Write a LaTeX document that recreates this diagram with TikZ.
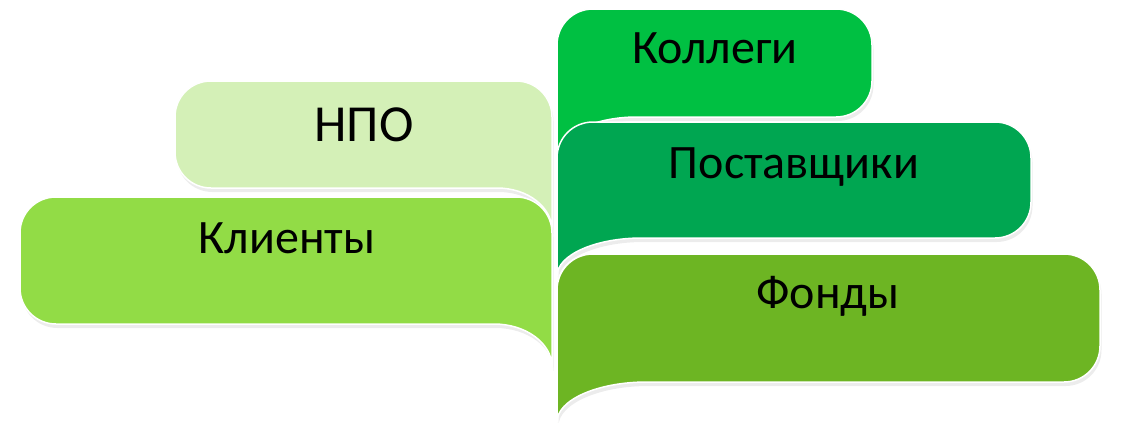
\documentclass[tikz,border=0pt]{standalone}
\usepackage{fontspec}
\setmainfont{Carlito}
\definecolor{cNPO}{RGB}{212,240,183}
\definecolor{cKli}{RGB}{146,220,70}
\definecolor{cKol}{RGB}{0,192,66}
\definecolor{cPos}{RGB}{0,166,81}
\definecolor{cFon}{RGB}{109,181,35}
\definecolor{cShadow}{RGB}{236,236,236}
% corner radius r=36, k=0.552*r=20
% left-type shape: L,R,T,B,Bt,tx (tail at bottom right)
\newcommand\lpath[6]{({#1+36},#4) -- ({#2-#6},#4)
  .. controls ({#2-0.448*#6},#4) and (#2,{#5-0.552*(#5-#4)}) .. (#2,#5)
  -- (#2,{#3+36}) .. controls (#2,{#3+16}) and ({#2-16},#3) .. ({#2-36},#3)
  -- ({#1+36},#3) .. controls ({#1+16},#3) and (#1,{#3+16}) .. (#1,{#3+36})
  -- (#1,{#4-36}) .. controls (#1,{#4-16}) and ({#1+16},#4) .. ({#1+36},#4) -- cycle}
% right-type shape: L,R,T,B,Bt,tx (tail at bottom left)
\newcommand\rpath[6]{({#1+#6},#4) -- ({#2-36},#4)
  .. controls ({#2-16},#4) and (#2,{#4-16}) .. (#2,{#4-36})
  -- (#2,{#3+36}) .. controls (#2,{#3+16}) and ({#2-16},#3) .. ({#2-36},#3)
  -- ({#1+36},#3) .. controls ({#1+16},#3) and (#1,{#3+16}) .. (#1,{#3+36})
  -- (#1,#5) .. controls (#1,{#5-0.552*(#5-#4)}) and ({#1+0.448*#6},#4) .. ({#1+#6},#4) -- cycle}
\newcommand\lshape[7]{%
  \fill[cShadow,xshift=1.5pt,yshift=-4pt] \lpath{#1}{#2}{#3}{#4}{#5}{#6};
  \fill[#7,draw=white,line width=1.5pt] \lpath{#1}{#2}{#3}{#4}{#5}{#6};}
\newcommand\rshape[7]{%
  \fill[cShadow,xshift=1.5pt,yshift=-4pt] \rpath{#1}{#2}{#3}{#4}{#5}{#6};
  \fill[#7,draw=white,line width=1.5pt] \rpath{#1}{#2}{#3}{#4}{#5}{#6};}
\tikzset{lbl/.style={anchor=base,inner sep=0pt,font=\fontsize{48}{58}\selectfont,text=black}}
\begin{document}
\begin{tikzpicture}[x=1pt,y=-1pt]
\useasboundingbox (0,0) rectangle (1125,423);
% left column
\lshape{175}{552}{81}{188}{230}{55}{cNPO}
\node[lbl,font=\fontsize{52}{60}\selectfont] (npo) at (364,141) {НПО};
\lshape{20}{552}{197}{324}{367}{58}{cKli}
\node[lbl] (kli) at (287,253) {Клиенты};
% right column
\rshape{557}{872}{9}{117}{157}{80}{cKol}
\node[lbl] (kol) at (715,63) {Коллеги};
\rshape{557}{1031}{122}{238}{276}{85}{cPos}
\node[lbl] (pos) at (794,178) {Поставщики};
\rshape{557}{1100}{254}{382}{422}{90}{cFon}
\node[lbl] (fon) at (828,308) {Фонды};
\end{tikzpicture}
\end{document}
